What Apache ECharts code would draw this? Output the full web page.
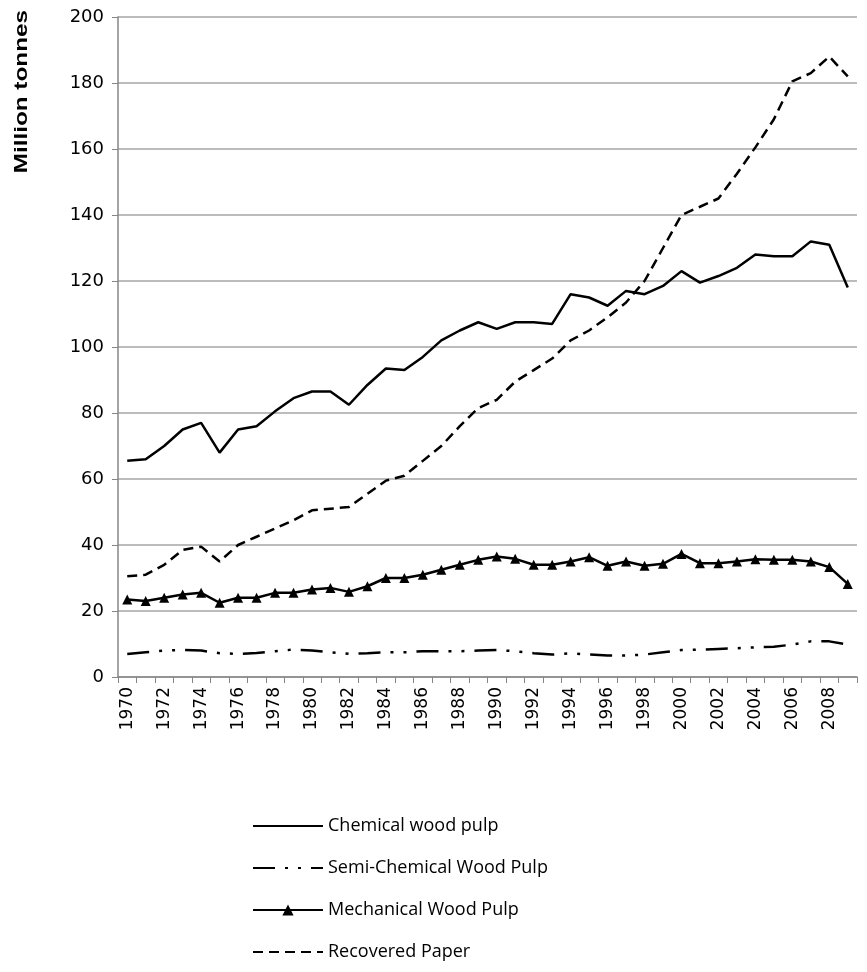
<!DOCTYPE html>
<html>
<head>
<meta charset="utf-8">
<script src="https://cdn.jsdelivr.net/npm/echarts@6/dist/echarts.min.js"></script>
<style>
  html, body { margin: 0; padding: 0; background: #fff; }
  #chart { width: 867px; height: 972px; }
</style>
</head>
<body>
<div id="chart"></div>
<script>
// years on the x axis
var years = [];
for (var y = 1970; y <= 2009; y++) years.push(String(y));

var chemicalPulp = [65.5, 66, 70, 75, 77, 68, 75, 76, 80.5, 84.5,
  86.5, 86.5, 82.5, 88.5, 93.5, 93, 97, 102, 105, 107.5,
  105.5, 107.5, 107.5, 107, 116, 115, 112.5, 117, 116, 118.5,
  123, 119.5, 121.5, 124, 128, 127.5, 127.5, 132, 131, 118];

var semiChemicalPulp = [7.0, 7.5, 8.0, 8.2, 8.0, 7.2, 7.0, 7.3, 7.8, 8.3,
  8.0, 7.5, 7.0, 7.2, 7.5, 7.5, 7.8, 7.8, 7.8, 8.0,
  8.2, 7.8, 7.2, 6.8, 7.2, 6.8, 6.5, 6.5, 6.8, 7.5,
  8.2, 8.3, 8.5, 8.7, 9.0, 9.2, 9.8, 10.8, 10.8, 9.8];

var mechanicalPulp = [23.5, 23, 24, 25, 25.5, 22.5, 24, 24, 25.5, 25.5,
  26.5, 27, 25.8, 27.5, 30, 30, 31, 32.5, 34, 35.5,
  36.5, 35.8, 34, 34, 35, 36.3, 33.7, 35, 33.7, 34.3,
  37.3, 34.5, 34.5, 35, 35.7, 35.5, 35.5, 35, 33.3, 28.2];

var recoveredPaper = [30.5, 31, 34, 38.5, 39.5, 35, 40, 42.5, 45, 47.5,
  50.5, 51, 51.5, 55.5, 59.5, 61, 65.5, 70, 76, 81.5,
  84, 89.5, 93, 96.5, 102, 105, 109, 113.5, 120, 130,
  140, 142.5, 145, 152.5, 160.5, 169, 180.5, 183, 188, 182];

var chart = echarts.init(document.getElementById('chart'));

var axisGrey = '#868686';
var gridGrey = '#a6a6a6';
var semiDash = [22, 10, 3, 10, 3, 10];
var paperDash = [10, 6];

chart.setOption({
  backgroundColor: '#fff',
  animation: false,
  grid: { left: 118, right: 10, top: 17, bottom: 295 },
  graphic: [{
    type: 'text',
    left: 13,
    top: 10,
    rotation: Math.PI / 2,
    scaleX: 1.35,
    style: {
      text: 'Million tonnes',
      font: 'bold 18px "Liberation Sans", Arial, sans-serif',
      fill: '#000'
    }
  }],
  legend: {
    orient: 'vertical',
    left: 252,
    top: 817,
    height: 150,
    padding: 0,
    itemWidth: 70,
    itemHeight: 14,
    itemGap: 24,
    textStyle: { fontFamily: 'Open Sans, sans-serif', fontSize: 18, color: '#000' },
    data: [
      { name: 'Chemical wood pulp', itemStyle: { opacity: 0 } },
      { name: 'Semi-Chemical Wood Pulp', itemStyle: { opacity: 0 } },
      { name: 'Mechanical Wood Pulp' },
      { name: 'Recovered Paper', itemStyle: { opacity: 0 } }
    ]
  },
  xAxis: {
    type: 'category',
    data: years,
    boundaryGap: true,
    axisLine: { lineStyle: { color: axisGrey, width: 1.5 } },
    axisTick: { show: true, length: 6, interval: 0, lineStyle: { color: axisGrey } },
    axisLabel: {
      interval: 1,
      rotate: 90,
      color: '#000',
      fontFamily: 'DejaVu Sans, Verdana, sans-serif',
      fontSize: 17,
      margin: 10
    },
    splitLine: { show: false }
  },
  yAxis: {
    type: 'value',
    min: 0,
    max: 200,
    interval: 20,
    axisLine: { show: true, lineStyle: { color: axisGrey, width: 1.5 } },
    axisTick: { show: true, length: 6, lineStyle: { color: axisGrey } },
    axisLabel: {
      color: '#000',
      fontFamily: 'DejaVu Sans, Verdana, sans-serif',
      fontSize: 18,
      margin: 14
    },
    splitLine: { lineStyle: { color: gridGrey, width: 1.5 } }
  },
  series: [
    {
      name: 'Chemical wood pulp',
      type: 'line',
      data: chemicalPulp,
      symbol: 'none',
      itemStyle: { color: '#000' },
      lineStyle: { color: '#000', width: 2.5 }
    },
    {
      name: 'Semi-Chemical Wood Pulp',
      type: 'line',
      data: semiChemicalPulp,
      symbol: 'none',
      itemStyle: { color: '#000' },
      lineStyle: { color: '#000', width: 2.5, type: semiDash }
    },
    {
      name: 'Mechanical Wood Pulp',
      type: 'line',
      data: mechanicalPulp,
      symbol: 'triangle',
      symbolSize: 10,
      showSymbol: true,
      itemStyle: { color: '#000' },
      lineStyle: { color: '#000', width: 2.5 }
    },
    {
      name: 'Recovered Paper',
      type: 'line',
      data: recoveredPaper,
      symbol: 'none',
      itemStyle: { color: '#000' },
      lineStyle: { color: '#000', width: 2.5, type: paperDash }
    }
  ]
});
</script>
</body>
</html>
